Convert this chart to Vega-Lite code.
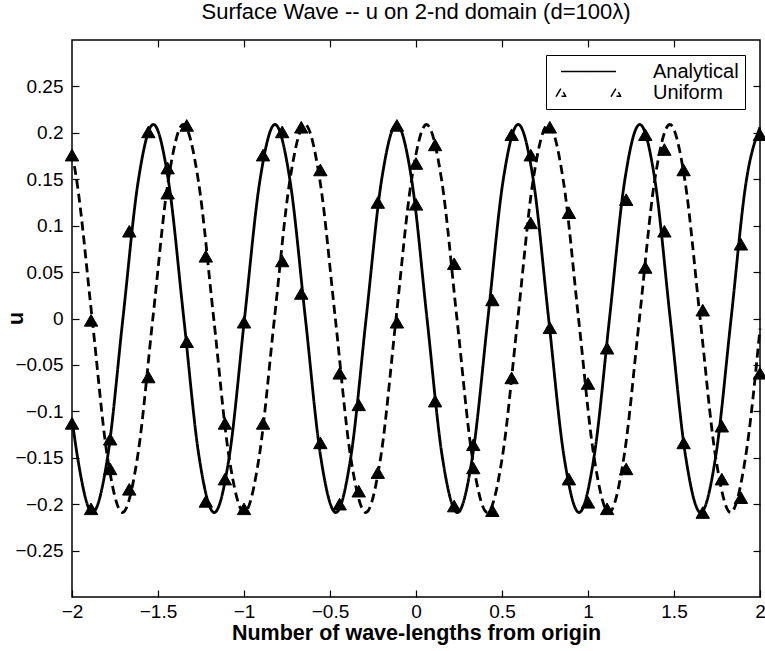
{
  "$schema": "https://vega.github.io/schema/vega-lite/v6.json",
  "width": 688,
  "height": 557,
  "autosize": {"type": "none"},
  "padding": {"left": 72, "top": 40, "right": 5, "bottom": 54},
  "background": "white",
  "title": {
    "text": "Surface Wave -- u on 2-nd domain (d=100λ)",
    "font": "Liberation Sans",
    "fontSize": 22,
    "fontWeight": "normal",
    "color": "black",
    "anchor": "middle",
    "frame": "group",
    "baseline": "alphabetic",
    "offset": -2
  },
  "config": {
    "view": {"stroke": "black", "strokeWidth": 1.5},
    "axis": {
      "grid": false,
      "domain": false,
      "tickColor": "black",
      "tickWidth": 1.2,
      "tickSize": -7,
      "labelColor": "black",
      "labelFont": "Liberation Sans",
      "labelFontSize": 19,
      "labelFlush": false,
      "labelOverlap": false,
      "labelBound": false,
      "titleColor": "black",
      "titleFont": "Liberation Sans",
      "titleFontSize": 21.5,
      "titleFontWeight": "bold"
    }
  },
  "layer": [
    {
      "data": {
        "values": [
          {"x": -2, "u": -0.108, "s": "Analytical"},
          {"x": -1.969, "u": -0.148, "s": "Analytical"},
          {"x": -1.881, "u": -0.209, "s": "Analytical"},
          {"x": -1.792, "u": -0.148, "s": "Analytical"},
          {"x": -1.704, "u": 0, "s": "Analytical"},
          {"x": -1.615, "u": 0.148, "s": "Analytical"},
          {"x": -1.527, "u": 0.209, "s": "Analytical"},
          {"x": -1.439, "u": 0.148, "s": "Analytical"},
          {"x": -1.35, "u": 0, "s": "Analytical"},
          {"x": -1.262, "u": -0.148, "s": "Analytical"},
          {"x": -1.173, "u": -0.209, "s": "Analytical"},
          {"x": -1.085, "u": -0.148, "s": "Analytical"},
          {"x": -0.997, "u": 0, "s": "Analytical"},
          {"x": -0.908, "u": 0.148, "s": "Analytical"},
          {"x": -0.82, "u": 0.209, "s": "Analytical"},
          {"x": -0.732, "u": 0.148, "s": "Analytical"},
          {"x": -0.643, "u": 0, "s": "Analytical"},
          {"x": -0.555, "u": -0.148, "s": "Analytical"},
          {"x": -0.466, "u": -0.209, "s": "Analytical"},
          {"x": -0.378, "u": -0.148, "s": "Analytical"},
          {"x": -0.29, "u": 0, "s": "Analytical"},
          {"x": -0.201, "u": 0.148, "s": "Analytical"},
          {"x": -0.113, "u": 0.209, "s": "Analytical"},
          {"x": -0.024, "u": 0.148, "s": "Analytical"},
          {"x": 0.064, "u": 0, "s": "Analytical"},
          {"x": 0.152, "u": -0.148, "s": "Analytical"},
          {"x": 0.241, "u": -0.209, "s": "Analytical"},
          {"x": 0.329, "u": -0.148, "s": "Analytical"},
          {"x": 0.418, "u": 0, "s": "Analytical"},
          {"x": 0.506, "u": 0.148, "s": "Analytical"},
          {"x": 0.594, "u": 0.209, "s": "Analytical"},
          {"x": 0.683, "u": 0.148, "s": "Analytical"},
          {"x": 0.771, "u": 0, "s": "Analytical"},
          {"x": 0.86, "u": -0.148, "s": "Analytical"},
          {"x": 0.948, "u": -0.209, "s": "Analytical"},
          {"x": 1.036, "u": -0.148, "s": "Analytical"},
          {"x": 1.125, "u": 0, "s": "Analytical"},
          {"x": 1.213, "u": 0.148, "s": "Analytical"},
          {"x": 1.301, "u": 0.209, "s": "Analytical"},
          {"x": 1.39, "u": 0.148, "s": "Analytical"},
          {"x": 1.478, "u": 0, "s": "Analytical"},
          {"x": 1.567, "u": -0.148, "s": "Analytical"},
          {"x": 1.655, "u": -0.209, "s": "Analytical"},
          {"x": 1.743, "u": -0.148, "s": "Analytical"},
          {"x": 1.832, "u": 0, "s": "Analytical"},
          {"x": 1.92, "u": 0.148, "s": "Analytical"},
          {"x": 2, "u": 0.206, "s": "Analytical"},
          {"x": -2, "u": 0.179, "s": "Uniform"},
          {"x": -1.972, "u": 0.148, "s": "Uniform"},
          {"x": -1.883, "u": 0, "s": "Uniform"},
          {"x": -1.795, "u": -0.148, "s": "Uniform"},
          {"x": -1.707, "u": -0.209, "s": "Uniform"},
          {"x": -1.618, "u": -0.148, "s": "Uniform"},
          {"x": -1.53, "u": 0, "s": "Uniform"},
          {"x": -1.441, "u": 0.148, "s": "Uniform"},
          {"x": -1.353, "u": 0.209, "s": "Uniform"},
          {"x": -1.265, "u": 0.148, "s": "Uniform"},
          {"x": -1.176, "u": 0, "s": "Uniform"},
          {"x": -1.088, "u": -0.148, "s": "Uniform"},
          {"x": -0.999, "u": -0.209, "s": "Uniform"},
          {"x": -0.911, "u": -0.148, "s": "Uniform"},
          {"x": -0.823, "u": 0, "s": "Uniform"},
          {"x": -0.734, "u": 0.148, "s": "Uniform"},
          {"x": -0.646, "u": 0.209, "s": "Uniform"},
          {"x": -0.558, "u": 0.148, "s": "Uniform"},
          {"x": -0.469, "u": 0, "s": "Uniform"},
          {"x": -0.381, "u": -0.148, "s": "Uniform"},
          {"x": -0.292, "u": -0.209, "s": "Uniform"},
          {"x": -0.204, "u": -0.148, "s": "Uniform"},
          {"x": -0.116, "u": 0, "s": "Uniform"},
          {"x": -0.027, "u": 0.148, "s": "Uniform"},
          {"x": 0.061, "u": 0.209, "s": "Uniform"},
          {"x": 0.15, "u": 0.148, "s": "Uniform"},
          {"x": 0.238, "u": 0, "s": "Uniform"},
          {"x": 0.326, "u": -0.148, "s": "Uniform"},
          {"x": 0.415, "u": -0.209, "s": "Uniform"},
          {"x": 0.503, "u": -0.148, "s": "Uniform"},
          {"x": 0.592, "u": 0, "s": "Uniform"},
          {"x": 0.68, "u": 0.148, "s": "Uniform"},
          {"x": 0.768, "u": 0.209, "s": "Uniform"},
          {"x": 0.857, "u": 0.148, "s": "Uniform"},
          {"x": 0.945, "u": 0, "s": "Uniform"},
          {"x": 1.034, "u": -0.148, "s": "Uniform"},
          {"x": 1.122, "u": -0.209, "s": "Uniform"},
          {"x": 1.21, "u": -0.148, "s": "Uniform"},
          {"x": 1.299, "u": 0, "s": "Uniform"},
          {"x": 1.387, "u": 0.148, "s": "Uniform"},
          {"x": 1.476, "u": 0.209, "s": "Uniform"},
          {"x": 1.564, "u": 0.148, "s": "Uniform"},
          {"x": 1.652, "u": 0, "s": "Uniform"},
          {"x": 1.741, "u": -0.148, "s": "Uniform"},
          {"x": 1.829, "u": -0.209, "s": "Uniform"},
          {"x": 1.917, "u": -0.148, "s": "Uniform"},
          {"x": 2, "u": -0.011, "s": "Uniform"}
        ]
      },
      "mark": {"type": "line", "interpolate": "monotone", "strokeWidth": 2.8},
      "encoding": {
        "x": {
          "field": "x", "type": "quantitative",
          "scale": {"domain": [-2, 2], "nice": false, "zero": false},
          "axis": {
            "orient": "bottom",
            "values": [-2, -1.5, -1, -0.5, 0, 0.5, 1, 1.5, 2],
            "format": "~g",
            "labelPadding": 12,
            "title": "Number of wave-lengths from origin",
            "titlePadding": 1
          }
        },
        "y": {
          "field": "u", "type": "quantitative",
          "scale": {"domain": [-0.3, 0.3], "nice": false, "zero": false},
          "axis": {
            "orient": "left",
            "values": [-0.25, -0.2, -0.15, -0.1, -0.05, 0, 0.05, 0.1, 0.15, 0.2, 0.25],
            "format": "~g",
            "labelPadding": 16,
            "title": "u",
            "titleX": -56,
            "titleY": 278,
            "titleAngle": 270,
            "titleAlign": "center",
            "titleBaseline": "middle"
          }
        },
        "color": {
          "field": "s", "type": "nominal",
          "scale": {"domain": ["Analytical", "Uniform"], "range": ["black", "black"]},
          "legend": {
            "title": null,
            "orient": "top-right",
            "offset": 15,
            "padding": 6,
            "strokeColor": "black",
            "fillColor": "white",
            "symbolSize": 361,
            "labelOffset": 80,
            "labelFont": "Liberation Sans",
            "labelFontSize": 20,
            "labelColor": "black",
            "rowPadding": -2,
            "symbolStrokeWidth": 1.5,
            "encode": {
              "symbols": {
                "update": {
                  "shape": {"signal": "datum.value === 'Analytical' ? 'M-0.16,0L5.63,0' : 'M-0.66,0.4L-0.16,-0.45L0.34,0.4Z M5.13,0.4L5.63,-0.45L6.13,0.4Z'"},
                  "fill": {"value": "white"},
                  "stroke": {"value": "black"},
                  "strokeWidth": {"value": 1.5},
                  "strokeJoin": {"value": "round"},
                  "strokeDash": {"value": [1, 0]}
                }
              }
            }
          }
        },
        "strokeDash": {
          "field": "s", "type": "nominal",
          "scale": {"domain": ["Analytical", "Uniform"], "range": [[1, 0], [9, 5]]},
          "legend": null
        }
      }
    },
    {
      "data": {
        "values": [
          {"x": -2, "u": 0.176}, {"x": -2, "u": -0.113},
          {"x": -1.889, "u": -0.002}, {"x": -1.889, "u": -0.205},
          {"x": -1.778, "u": -0.13}, {"x": -1.778, "u": -0.162},
          {"x": -1.667, "u": 0.094}, {"x": -1.667, "u": -0.184},
          {"x": -1.556, "u": 0.201}, {"x": -1.556, "u": -0.063},
          {"x": -1.444, "u": 0.162}, {"x": -1.444, "u": 0.135},
          {"x": -1.333, "u": 0.208}, {"x": -1.333, "u": -0.025},
          {"x": -1.222, "u": 0.067}, {"x": -1.222, "u": -0.197},
          {"x": -1.111, "u": -0.113}, {"x": -1.111, "u": -0.173},
          {"x": -1, "u": -0.004}, {"x": -1, "u": -0.205},
          {"x": -0.889, "u": 0.176}, {"x": -0.889, "u": -0.113},
          {"x": -0.778, "u": 0.201}, {"x": -0.778, "u": 0.062},
          {"x": -0.667, "u": 0.206}, {"x": -0.667, "u": 0.027},
          {"x": -0.556, "u": 0.16}, {"x": -0.556, "u": -0.134},
          {"x": -0.444, "u": -0.059}, {"x": -0.444, "u": -0.2},
          {"x": -0.333, "u": -0.093}, {"x": -0.333, "u": -0.186},
          {"x": -0.222, "u": 0.125}, {"x": -0.222, "u": -0.166},
          {"x": -0.111, "u": 0.208}, {"x": -0.111, "u": -0.004},
          {"x": 0, "u": 0.167}, {"x": 0, "u": 0.123},
          {"x": 0.111, "u": 0.187}, {"x": 0.111, "u": -0.089},
          {"x": 0.222, "u": 0.059}, {"x": 0.222, "u": -0.202},
          {"x": 0.333, "u": -0.136}, {"x": 0.333, "u": -0.161},
          {"x": 0.444, "u": 0.02}, {"x": 0.444, "u": -0.207},
          {"x": 0.556, "u": 0.198}, {"x": 0.556, "u": -0.064},
          {"x": 0.667, "u": 0.176}, {"x": 0.667, "u": 0.103},
          {"x": 0.778, "u": 0.206}, {"x": 0.778, "u": -0.01},
          {"x": 0.889, "u": 0.114}, {"x": 0.889, "u": -0.173},
          {"x": 1, "u": -0.07}, {"x": 1, "u": -0.198},
          {"x": 1.111, "u": -0.032}, {"x": 1.111, "u": -0.205},
          {"x": 1.222, "u": 0.128}, {"x": 1.222, "u": -0.162},
          {"x": 1.333, "u": 0.198}, {"x": 1.333, "u": 0.055},
          {"x": 1.444, "u": 0.182}, {"x": 1.444, "u": 0.094},
          {"x": 1.556, "u": 0.16}, {"x": 1.556, "u": -0.134},
          {"x": 1.667, "u": 0.009}, {"x": 1.667, "u": -0.209},
          {"x": 1.778, "u": -0.116}, {"x": 1.778, "u": -0.173},
          {"x": 1.889, "u": 0.08}, {"x": 1.889, "u": -0.193},
          {"x": 2, "u": 0.198}, {"x": 2, "u": -0.059}
        ]
      },
      "mark": {"type": "point", "shape": "triangle-up", "filled": true, "size": 180, "color": "black", "stroke": "black", "strokeWidth": 1, "opacity": 1},
      "encoding": {
        "x": {
          "field": "x", "type": "quantitative",
          "scale": {"domain": [-2, 2], "nice": false, "zero": false},
          "axis": {"orient": "top", "values": [-1.5, -1, -0.5, 0, 0.5, 1, 1.5], "labels": false, "title": null}
        },
        "y": {
          "field": "u", "type": "quantitative",
          "scale": {"domain": [-0.3, 0.3], "nice": false, "zero": false},
          "axis": {"orient": "right", "values": [-0.25, -0.2, -0.15, -0.1, -0.05, 0, 0.05, 0.1, 0.15, 0.2, 0.25], "labels": false, "title": null}
        }
      }
    }
  ],
  "resolve": {"axis": {"x": "independent", "y": "independent"}}
}
